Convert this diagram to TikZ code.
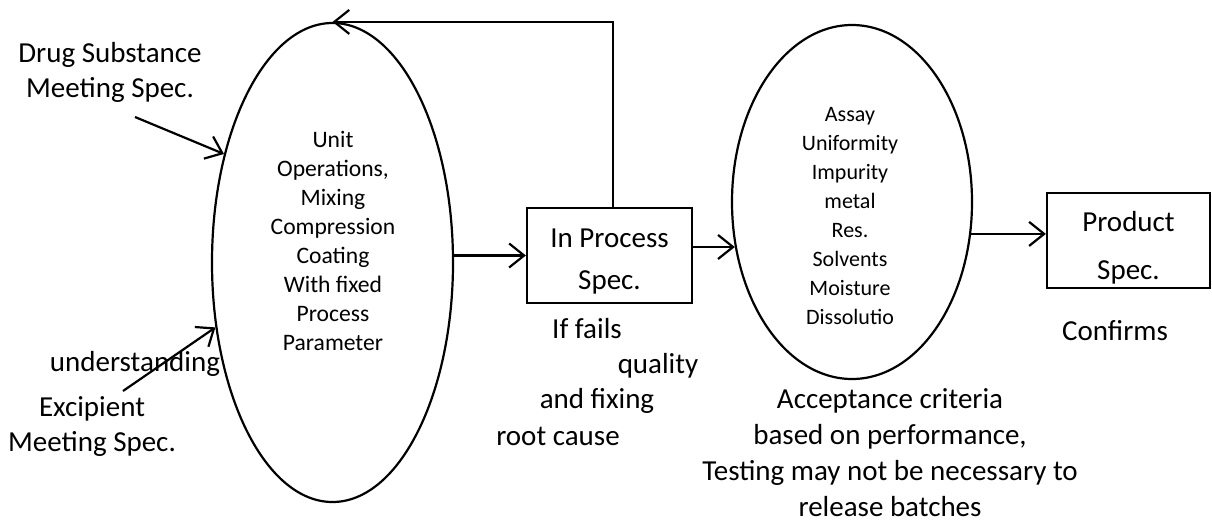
\documentclass[tikz,border=0pt]{standalone}
\usepackage{fontspec}
\setmainfont{Carlito}
\usepackage{tikz}
\usetikzlibrary{shapes.geometric, positioning, arrows.meta}

\begin{document}
\begin{tikzpicture}[x=1pt, y=-1pt, >={Straight Barb[length=15pt, width=24pt, line width=2.2pt]},
        line width=2.2pt,
        blob/.style={draw, ellipse, inner sep=0pt},
        spec/.style={draw, rectangle, inner sep=0pt, minimum height=95pt},
        lbl/.style={align=center, inner sep=0pt, font=\fontsize{29}{35}\selectfont}]
        \useasboundingbox (0,0) rectangle (1212,520);

        \node[blob, minimum width=241pt, minimum height=479pt] (ops) at (332.5,262.5) {};
        \node[align=center, font=\fontsize{23.6}{29}\selectfont] (opstext) at (333,241)
            {Unit\\Operations,\\Mixing\\Compression\\Coating\\With fixed\\Process\\Parameter};
        \node[spec, minimum width=165pt] (inproc) at (609.5,255.5) {};
        \node[lbl, font=\fontsize{29}{42}\selectfont] (inproctext) at ([yshift=-6pt]inproc.center) {In Process\\Spec.};
        \node[blob, minimum width=240pt, minimum height=354pt] (tests) at (852,202) {};
        \node[align=center, font=\fontsize{22}{29}\selectfont] (teststext) at (850,216)
            {Assay\\Uniformity\\Impurity\\metal\\Res.\\Solvents\\Moisture\\Dissolutio};
        \node[spec, minimum width=163pt] (prod) at (1128.5,240.5) {};
        \node[lbl, font=\fontsize{29}{48}\selectfont] (prodtext) at ([yshift=-7pt]prod.center) {Product\\Spec.};

        \node[lbl] (drug) at (110,72) {Drug Substance\\Meeting Spec.};
        \node[lbl] (under) at (135,364) {understanding};
        \node[lbl] (excip) at (92,427) {Excipient\\Meeting Spec.};
        \node[lbl] (fail1) at (587,329) {If fails};
        \node[lbl] (fail2) at (658,366) {quality};
        \node[lbl] (fail3) at (597,401) {and fixing};
        \node[lbl] (fail4) at (558,436) {root cause};
        \node[lbl, font=\fontsize{29}{36}\selectfont] (accept) at (890,453)
            {Acceptance criteria\\based on performance,\\Testing may not be necessary to\\release batches};
        \node[lbl] (confirm) at (1115,331) {Confirms};

        \coordinate (drugtail) at (135,117);
        \coordinate (exciptail) at (123,391);

        \draw[->] (drugtail) -- (ops.135);
        \draw[->] (exciptail) -- (ops.209);
        \draw[->] (inproc.west -| ops.east) -- (inproc.west);
        \draw[->] ([xshift=3.5pt]inproc.north) |- (ops.north);
        \draw[->] (inproc.east |- tests.201) -- (tests.201);
        \draw[->] (tests.345) -- (prod.west |- tests.345);
\end{tikzpicture}
\end{document}
